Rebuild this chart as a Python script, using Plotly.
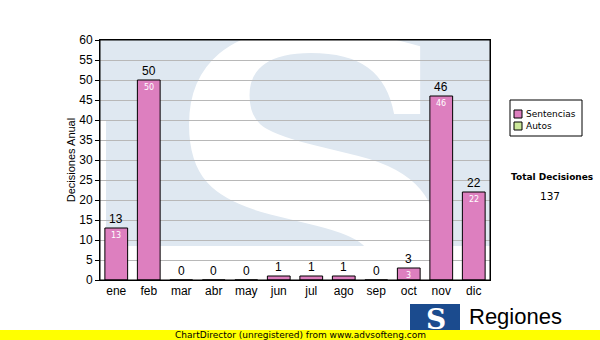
import base64
import plotly.graph_objects as go

months = ["ene", "feb", "mar", "abr", "may", "jun", "jul", "ago", "sep", "oct", "nov", "dic"]
sentencias = [13, 50, 0, 0, 0, 1, 1, 1, 0, 3, 46, 22]
autos = [0, 0, 0, 0, 0, 0, 0, 0, 0, 0, 0, 0]
series_names = ["Sentencias", "Autos"]
series_colors = ["#dd7fbf", "#cce89a"]
y_ticks = list(range(0, 61, 5))

total = sum(sentencias) + sum(autos)

PW = 390  # plot width in px
PL = 100  # plot left px

# watermark (light blue block with white S)
svg = (
    '<svg xmlns="http://www.w3.org/2000/svg" width="390" height="240" viewBox="0 0 390 240">'
    '<rect x="0" y="0" width="390" height="206" fill="#dfe8f1"/>'
    '<rect x="0" y="80" width="6" height="126" fill="#ffffff"/>'
    '<text x="213" y="300" font-size="420" font-weight="bold" fill="#ffffff" '
    'text-anchor="middle" font-family="DejaVu Serif">S</text>'
    '</svg>'
)
wm = "data:image/svg+xml;base64," + base64.b64encode(svg.encode()).decode()

fig = go.Figure()
fig.add_trace(go.Bar(
    x=months, y=sentencias, name=series_names[0],
    marker=dict(color=series_colors[0], line=dict(color="#000000", width=1)),
    width=0.7, showlegend=False, hoverinfo="skip",
))

annotations = []
for m, v in zip(months, sentencias):
    annotations.append(dict(x=m, y=v, xref="x", yref="y", text=str(v), showarrow=False,
                            yanchor="bottom", yshift=0,
                            font=dict(family="Liberation Sans, Arial", size=12, color="#000000")))
    if v >= 3:
        annotations.append(dict(x=m, y=v, xref="x", yref="y", text=str(v), showarrow=False,
                                yanchor="top", yshift=-1,
                                font=dict(family="DejaVu Sans", size=8, color="#ffffff")))

def fx(p):
    return (p - PL) / PW

def fy(p):
    return (280 - p) / 240

shapes = [
    dict(type="rect", xref="paper", yref="paper", x0=0, x1=1, y0=0, y1=1,
         line=dict(color="#000000", width=1), fillcolor="rgba(0,0,0,0)", layer="above"),
]
W, H = 600, 340

# legend (manual)
shapes.append(dict(type="rect", xref="paper", yref="paper",
                   x0=fx(510), x1=fx(582), y0=fy(136), y1=fy(100),
                   line=dict(color="#000000", width=1), fillcolor="#ffffff"))
for i, (nm, col) in enumerate(zip(series_names, series_colors)):
    yc = 114 + i * 12
    shapes.append(dict(type="rect", xref="paper", yref="paper",
                       x0=fx(514), x1=fx(522), y0=fy(yc + 4), y1=fy(yc - 4),
                       line=dict(color="#000000", width=1), fillcolor=col))
    annotations.append(dict(xref="paper", yref="paper", x=fx(524), y=fy(yc),
                            text=nm, showarrow=False, xanchor="left", yanchor="middle",
                            font=dict(family="DejaVu Sans", size=9, color="#000000")))

annotations.append(dict(xref="paper", yref="paper", x=fx(552), y=fy(177),
                        text="<b>Total Decisiones</b>", showarrow=False, xanchor="center", yanchor="middle",
                        font=dict(family="DejaVu Sans", size=9, color="#000000")))
annotations.append(dict(xref="paper", yref="paper", x=fx(550), y=fy(196),
                        text=str(total), showarrow=False, xanchor="center", yanchor="middle",
                        font=dict(family="DejaVu Sans", size=10.5, color="#000000")))

# logo
shapes.append(dict(type="rect", xref="paper", yref="paper",
                   x0=fx(410), x1=fx(460), y0=fy(345), y1=fy(304),
                   line=dict(width=0), fillcolor="#1b4b8e"))
annotations.append(dict(xref="paper", yref="paper", x=fx(436), y=fy(319),
                        text="<b>S</b>", showarrow=False, xanchor="center", yanchor="middle",
                        font=dict(family="DejaVu Serif", size=28, color="#ffffff")))
annotations.append(dict(xref="paper", yref="paper", x=fx(467), y=fy(316),
                        text="Regiones", showarrow=False, xanchor="left", yanchor="middle",
                        font=dict(family="Liberation Sans, Arial", size=22, color="#000000")))
# yellow strip
shapes.append(dict(type="rect", xref="paper", yref="paper",
                   x0=fx(0), x1=fx(600), y0=fy(341), y1=fy(330),
                   line=dict(width=0), fillcolor="#ffff00", layer="above"))
annotations.append(dict(xref="paper", yref="paper", x=fx(300), y=fy(335),
                        text="ChartDirector (unregistered) from www.advsofteng.com", showarrow=False,
                        xanchor="center", yanchor="middle",
                        font=dict(family="DejaVu Sans", size=9, color="#000000")))

fig.update_layout(
    width=W, height=H,
    margin=dict(l=PL, r=W - PL - PW, t=40, b=60),
    paper_bgcolor="#ffffff", plot_bgcolor="rgba(0,0,0,0)",
    font=dict(family="Liberation Sans, Arial", size=12, color="#000000"),
    xaxis=dict(showgrid=False, ticks="", showline=True, linecolor="#000000", linewidth=1,
               mirror=True, tickfont=dict(size=12), range=[-0.5, 11.5]),
    yaxis=dict(range=[0, 60], tickvals=y_ticks, showgrid=True, gridcolor="#b8b8b8", gridwidth=1,
               ticks="outside", ticklen=4, tickcolor="#000000", showline=True,
               linecolor="#000000", linewidth=1, mirror=True, zeroline=False,
               title=dict(text="Decisiones Anual", font=dict(size=11), standoff=1),
               tickfont=dict(size=12)),
    shapes=shapes, annotations=annotations,
    images=[dict(source=wm, xref="paper", yref="paper", x=0, y=1, sizex=1, sizey=1,
                 sizing="stretch", xanchor="left", yanchor="top", layer="below")],
    bargap=0.3,
)

fig.write_html("out.html")
